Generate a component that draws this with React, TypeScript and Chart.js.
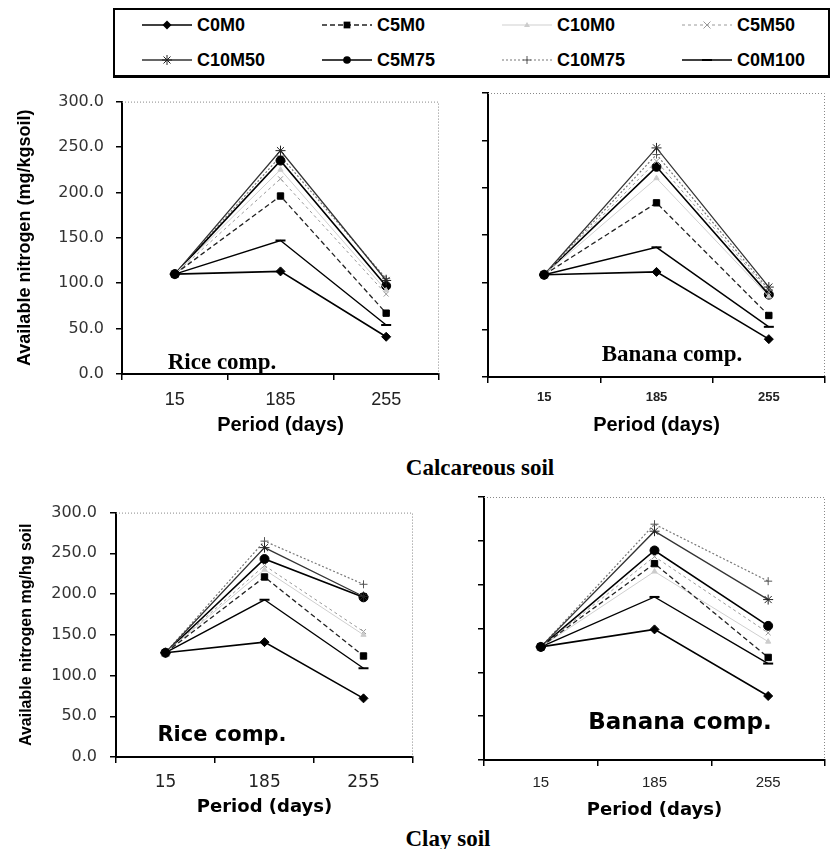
import React, { useEffect, useRef } from 'react';
import { Chart, registerables } from 'chart.js';

Chart.register(...registerables);

// ---------------- DATA ----------------
const periods = ['15', '185', '255'];
const treatments = ['C0M0', 'C5M0', 'C10M0', 'C5M50', 'C10M50', 'C5M75', 'C10M75', 'C0M100'];

// rows follow the order of `treatments`; columns follow `periods`
const calcareousRice = [
  [110, 113, 41],
  [110, 196, 67],
  [110, 225, 92],
  [110, 215, 88],
  [110, 246, 103],
  [110, 235, 97],
  [110, 240, 105],
  [110, 147, 54],
];
const calcareousBanana = [
  [108, 111, 40],
  [108, 184, 65],
  [108, 210, 85],
  [108, 228, 90],
  [108, 242, 95],
  [108, 222, 87],
  [108, 235, 92],
  [108, 137, 53],
];
const clayRice = [
  [128, 141, 72],
  [128, 221, 124],
  [128, 230, 150],
  [128, 235, 154],
  [128, 257, 197],
  [128, 243, 196],
  [128, 265, 212],
  [128, 193, 109],
];
const clayBanana = [
  [129, 149, 73],
  [129, 224, 117],
  [129, 215, 135],
  [129, 232, 145],
  [129, 261, 183],
  [129, 239, 153],
  [129, 269, 204],
  [129, 186, 110],
];

const yTickValues = [0, 50, 100, 150, 200, 250, 300];

// ---------------- STYLES ----------------
type SeriesStyle = {
  color: string;
  dash: number[];
  width: number;
  point: string;
  pointColor: string;
  r: number;
};
const seriesStyles: SeriesStyle[] = [
  { color: '#000', dash: [], width: 1.6, point: 'rectRot', pointColor: '#000', r: 4.5 },
  { color: '#222', dash: [5, 3], width: 1.3, point: 'rect', pointColor: '#000', r: 4.5 },
  { color: '#cfcfcf', dash: [], width: 1, point: 'triangle', pointColor: '#ccc', r: 3 },
  { color: '#9a9a9a', dash: [3, 3], width: 1, point: 'crossRot', pointColor: '#999', r: 3.5 },
  { color: '#333', dash: [], width: 1.3, point: 'star', pointColor: '#222', r: 5 },
  { color: '#000', dash: [], width: 1.6, point: 'circle', pointColor: '#000', r: 4.5 },
  { color: '#777', dash: [2, 2], width: 1.2, point: 'cross', pointColor: '#555', r: 4 },
  { color: '#000', dash: [], width: 1.4, point: 'line', pointColor: '#000', r: 5 },
];

const panelDecor = {
  id: 'panelDecor',
  beforeDatasetsDraw(chart: any) {
    const { ctx, chartArea } = chart;
    const { left, top, right, bottom } = chartArea;
    ctx.save();
    ctx.strokeStyle = '#888';
    ctx.lineWidth = 1;
    ctx.setLineDash([1, 2]);
    ctx.beginPath();
    ctx.moveTo(left, top + 0.5);
    ctx.lineTo(right - 0.5, top + 0.5);
    ctx.lineTo(right - 0.5, bottom);
    ctx.stroke();
    ctx.restore();
  },
  afterDraw(chart: any, _args: any, opts: any) {
    if (!opts || !opts.text) return;
    const { ctx, chartArea } = chart;
    ctx.save();
    ctx.font = opts.font;
    ctx.fillStyle = '#000';
    ctx.textAlign = 'center';
    ctx.textBaseline = 'middle';
    ctx.fillText(opts.text, chartArea.left + opts.dx, chartArea.top + opts.dy);
    ctx.restore();
  },
};

type PanelCfg = {
  data: number[][];
  left: number;
  top: number;
  width: number;
  height: number;
  padTop: number;
  padRight: number;
  yWidth: number;
  xHeight: number;
  yTitle: string;
  yTitleFont: any;
  yTitlePad: number;
  showYLabels: boolean;
  yTickFont: any;
  yTickPad: number;
  xTickFont: any;
  xTickPad: number;
  xTitleFont: any;
  xTitlePad: number;
  label: string;
  labelFont: string;
  labelDx: number;
  labelDy: number;
};

function Panel({ cfg }: { cfg: PanelCfg }) {
  const ref = useRef<HTMLCanvasElement | null>(null);
  useEffect(() => {
    if (!ref.current) return;
    const chart = new Chart(ref.current, {
      type: 'line',
      data: {
        labels: periods,
        datasets: treatments.map((name, i) => {
          const s = seriesStyles[i];
          return {
            label: name,
            data: cfg.data[i],
            borderColor: s.color,
            borderWidth: s.width,
            borderDash: s.dash,
            pointStyle: s.point as any,
            pointRadius: s.r,
            pointBackgroundColor: s.pointColor,
            pointBorderColor: s.pointColor,
            pointBorderWidth: s.point === 'line' ? 2 : 1,
            tension: 0,
            fill: false,
          };
        }),
      },
      options: {
        animation: false,
        responsive: false,
        maintainAspectRatio: false,
        devicePixelRatio: 1,
        events: [],
        layout: { padding: { top: cfg.padTop, right: cfg.padRight, left: 0, bottom: 0 } },
        plugins: {
          legend: { display: false },
          tooltip: { enabled: false },
          panelDecor: { text: cfg.label, font: cfg.labelFont, dx: cfg.labelDx, dy: cfg.labelDy },
        } as any,
        scales: {
          x: {
            type: 'category',
            offset: true,
            grid: {
              offset: true,
              drawOnChartArea: false,
              drawTicks: true,
              tickLength: 6,
              color: '#000',
              lineWidth: 1.5,
            },
            border: { display: true, color: '#000', width: 2 },
            ticks: {
              font: cfg.xTickFont,
              color: '#222',
              padding: cfg.xTickPad,
              maxRotation: 0,
              autoSkip: false,
            },
            title: {
              display: true,
              text: 'Period (days)',
              font: cfg.xTitleFont,
              color: '#000',
              padding: { top: 0, bottom: cfg.xTitlePad },
            },
            afterFit: (s: any) => {
              s.height = cfg.xHeight;
            },
          },
          y: {
            min: 0,
            max: 300,
            afterBuildTicks: (s: any) => {
              s.ticks = yTickValues.map((v) => ({ value: v }));
            },
            ticks: {
              callback: (v: any) => (cfg.showYLabels ? Number(v).toFixed(1) : ''),
              font: cfg.yTickFont,
              color: '#333',
              padding: cfg.yTickPad,
            },
            grid: {
              drawOnChartArea: false,
              drawTicks: true,
              tickLength: 6,
              color: '#000',
              lineWidth: 1.5,
            },
            border: { display: true, color: '#000', width: 2 },
            title: {
              display: cfg.yTitle !== '',
              text: cfg.yTitle,
              font: cfg.yTitleFont,
              color: '#000',
              padding: { top: cfg.yTitlePad, bottom: 0 },
            },
            afterFit: (s: any) => {
              s.width = cfg.yWidth;
            },
          },
        },
      },
      plugins: [panelDecor as any],
    });
    return () => chart.destroy();
  }, [cfg]);
  return (
    <canvas
      ref={ref}
      width={cfg.width}
      height={cfg.height}
      style={{ position: 'absolute', left: cfg.left, top: cfg.top, width: cfg.width, height: cfg.height }}
    />
  );
}

const SANS = "'Liberation Sans', Arial, sans-serif";
const DEJAVU = "'DejaVu Sans', sans-serif";
const SERIF = "'Liberation Serif', 'Times New Roman', serif";

const panels: PanelCfg[] = [
  {
    data: calcareousRice,
    left: 0, top: 80, width: 446, height: 360,
    padTop: 10, padRight: 6, yWidth: 122, xHeight: 66,
    yTitle: 'Available nitrogen (mg/kgsoil)',
    yTitleFont: { family: SANS, size: 18, weight: 'bold' }, yTitlePad: 14,
    showYLabels: true, yTickFont: { family: DEJAVU, size: 16 }, yTickPad: 12,
    xTickFont: { family: SANS, size: 18 }, xTickPad: 9,
    xTitleFont: { family: SANS, size: 20, weight: 'bold' }, xTitlePad: 3,
    label: 'Rice comp.', labelFont: `bold 23px ${SERIF}`, labelDx: 100, labelDy: 261,
  },
  {
    data: calcareousBanana,
    left: 446, top: 80, width: 386, height: 360,
    padTop: 13, padRight: 4, yWidth: 42, xHeight: 63,
    yTitle: '',
    yTitleFont: { family: SANS, size: 12 }, yTitlePad: 0,
    showYLabels: false, yTickFont: { family: SANS, size: 2 }, yTickPad: 0,
    xTickFont: { family: SANS, size: 13, weight: 'bold' }, xTickPad: 7,
    xTitleFont: { family: SANS, size: 20, weight: 'bold' }, xTitlePad: 3,
    label: 'Banana comp.', labelFont: `bold 23px ${SERIF}`, labelDx: 184, labelDy: 262,
  },
  {
    data: clayRice,
    left: 0, top: 490, width: 420, height: 335,
    padTop: 12, padRight: 7, yWidth: 116, xHeight: 68,
    yTitle: 'Available nitrogen mg/hg soil',
    yTitleFont: { family: SANS, size: 16, weight: 'bold' }, yTitlePad: 17,
    showYLabels: true, yTickFont: { family: DEJAVU, size: 16 }, yTickPad: 13,
    xTickFont: { family: DEJAVU, size: 17 }, xTickPad: 9,
    xTitleFont: { family: DEJAVU, size: 18, weight: 'bold' }, xTitlePad: 7,
    label: 'Rice comp.', labelFont: `bold 21px ${DEJAVU}`, labelDx: 106, labelDy: 223,
  },
  {
    data: clayBanana,
    left: 420, top: 490, width: 412, height: 335,
    padTop: 6, padRight: 7, yWidth: 64, xHeight: 65,
    yTitle: '',
    yTitleFont: { family: SANS, size: 12 }, yTitlePad: 0,
    showYLabels: false, yTickFont: { family: SANS, size: 2 }, yTickPad: 0,
    xTickFont: { family: SANS, size: 15 }, xTickPad: 8,
    xTitleFont: { family: DEJAVU, size: 18, weight: 'bold' }, xTitlePad: 4,
    label: 'Banana comp.', labelFont: `bold 23px ${DEJAVU}`, labelDx: 196, labelDy: 226,
  },
];

// ---------------- LEGEND ----------------
function MarkerSvg({ s, cx, cy }: { s: SeriesStyle; cx: number; cy: number }) {
  const r = s.r;
  const c = s.pointColor;
  switch (s.point) {
    case 'rectRot':
      return <polygon points={`${cx},${cy - r} ${cx + r},${cy} ${cx},${cy + r} ${cx - r},${cy}`} fill={c} />;
    case 'rect':
      return <rect x={cx - r * 0.75} y={cy - r * 0.75} width={r * 1.5} height={r * 1.5} fill={c} />;
    case 'triangle':
      return <polygon points={`${cx},${cy - r} ${cx + r},${cy + r * 0.7} ${cx - r},${cy + r * 0.7}`} fill={c} />;
    case 'crossRot':
      return (
        <g stroke={c} strokeWidth={1}>
          <line x1={cx - r} y1={cy - r} x2={cx + r} y2={cy + r} />
          <line x1={cx - r} y1={cy + r} x2={cx + r} y2={cy - r} />
        </g>
      );
    case 'cross':
      return (
        <g stroke={c} strokeWidth={1}>
          <line x1={cx - r} y1={cy} x2={cx + r} y2={cy} />
          <line x1={cx} y1={cy - r} x2={cx} y2={cy + r} />
        </g>
      );
    case 'star':
      return (
        <g stroke={c} strokeWidth={1}>
          <line x1={cx - r} y1={cy} x2={cx + r} y2={cy} />
          <line x1={cx} y1={cy - r} x2={cx} y2={cy + r} />
          <line x1={cx - r * 0.7} y1={cy - r * 0.7} x2={cx + r * 0.7} y2={cy + r * 0.7} />
          <line x1={cx - r * 0.7} y1={cy + r * 0.7} x2={cx + r * 0.7} y2={cy - r * 0.7} />
        </g>
      );
    case 'circle':
      return <circle cx={cx} cy={cy} r={r * 0.85} fill={c} />;
    case 'line':
      return <line x1={cx - r} y1={cy} x2={cx + r} y2={cy} stroke={c} strokeWidth={2} />;
    default:
      return null;
  }
}

function Legend() {
  const boxLeft = 113;
  const boxTop = 8;
  return (
    <div
      style={{
        position: 'absolute',
        left: boxLeft,
        top: boxTop,
        width: 717,
        height: 70,
        boxSizing: 'border-box',
        borderTop: '2px solid #000',
        borderLeft: '2px solid #000',
        borderRight: '2px solid #000',
        borderBottom: '3px solid #000',
        background: '#fff',
      }}
    >
      {treatments.map((name, i) => {
        const col = i % 4;
        const row = Math.floor(i / 4);
        const textX = 197 + col * 180 - boxLeft - 2;
        const cy = (row === 0 ? 25 : 60) - boxTop - 2;
        const s = seriesStyles[i];
        return (
          <React.Fragment key={name}>
            <svg
              width={50}
              height={14}
              style={{ position: 'absolute', left: textX - 55, top: cy - 7 }}
            >
              <line
                x1={0}
                y1={7}
                x2={50}
                y2={7}
                stroke={s.color}
                strokeWidth={s.width}
                strokeDasharray={s.dash.length ? s.dash.join(' ') : undefined}
              />
              <MarkerSvg s={s} cx={25} cy={7} />
            </svg>
            <div
              style={{
                position: 'absolute',
                left: textX,
                top: cy - 11,
                height: 22,
                lineHeight: '22px',
                fontFamily: SANS,
                fontWeight: 'bold',
                fontSize: 18,
                color: '#000',
                whiteSpace: 'nowrap',
              }}
            >
              {name}
            </div>
          </React.Fragment>
        );
      })}
    </div>
  );
}

function Caption({ text, cx, cy }: { text: string; cx: number; cy: number }) {
  return (
    <div
      style={{
        position: 'absolute',
        left: cx - 150,
        top: cy - 14,
        width: 300,
        height: 28,
        lineHeight: '28px',
        textAlign: 'center',
        fontFamily: SERIF,
        fontWeight: 'bold',
        fontSize: 23,
        color: '#000',
      }}
    >
      {text}
    </div>
  );
}

export default function App() {
  return (
    <div
      style={{
        position: 'absolute',
        left: 0,
        top: 0,
        width: 832,
        height: 849,
        background: '#fff',
        overflow: 'hidden',
      }}
    >
      <Legend />
      {panels.map((p, i) => (
        <Panel key={i} cfg={p} />
      ))}
      <Caption text="Calcareous soil" cx={480} cy={468} />
      <Caption text="Clay soil" cx={448} cy={839} />
    </div>
  );
}
